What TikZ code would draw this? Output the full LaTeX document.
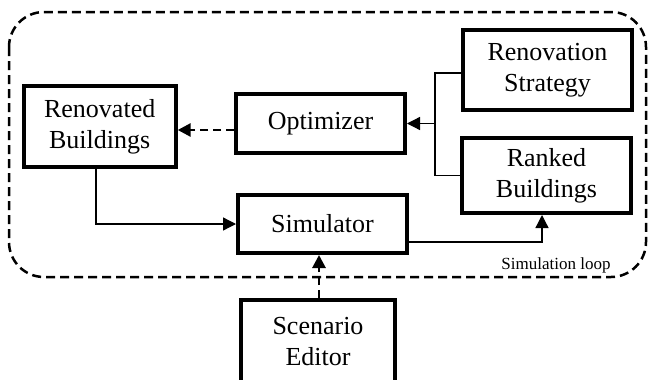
\documentclass[tikz,border=0pt]{standalone}
\usepackage{fontspec}
\setmainfont{Liberation Serif}
\usetikzlibrary{arrows.meta}

\tikzset{
  block/.style={draw, line width=4pt, inner sep=0pt, align=center,
    font=\fontsize{26}{31}\selectfont},
  link/.style={line width=1.3pt, -{Triangle[length=13pt,width=13pt]}},
  dashlink/.style={line width=2.8pt, dash pattern=on 8pt off 5pt,
    -{Triangle[length=13pt,width=13pt]}},
}

\begin{document}
\begin{tikzpicture}[x=1pt, y=-1pt]
\useasboundingbox (0,0) rectangle (648,380);
% the loop frame
\draw[line width=2.5pt, dash pattern=on 9pt off 5pt, rounded corners=35pt]
  (9,12) rectangle (646,277);
\node[font=\fontsize{17}{20}\selectfont] (looplabel) at (556,265) {Simulation loop};

% blocks
\node[block, minimum width=152pt, minimum height=81pt] (renovated) at (99.7,126.5) {Renovated\\Buildings};
\node[block, minimum width=169pt, minimum height=59pt] (optimizer) at (320.5,123.5) {Optimizer};
\node[block, minimum width=169pt, minimum height=80pt] (strategy) at (547.5,70) {Renovation\\Strategy};
\node[block, minimum width=169pt, minimum height=75pt] (ranked) at (546.5,175.5) {Ranked\\Buildings};
\node[block, minimum width=169pt, minimum height=58pt] (simulator) at (322.5,224) {Simulator};
\node[block, minimum width=154pt, minimum height=84pt] (editor) at (318,342) {Scenario\\Editor};

% connectors
\coordinate (fork) at (435,123.5);
\draw[line width=1.3pt] ([yshift=-3pt]strategy.west) -| (fork) |- (ranked.west);
\draw[link] (fork) -- (optimizer.east);
\draw[dashlink] ([yshift=-6.5pt]optimizer.west) -- ([yshift=-6.5pt]optimizer.west -| renovated.east);
\draw[link] ([xshift=-3.7pt]renovated.south) |- (simulator.west);
\draw[link] ([yshift=-18pt]simulator.east) -| ([xshift=-4.5pt]ranked.south);
\draw[dashlink] ([xshift=1pt]editor.north) -- ([xshift=1pt]editor.north |- simulator.south);
\end{tikzpicture}
\end{document}
